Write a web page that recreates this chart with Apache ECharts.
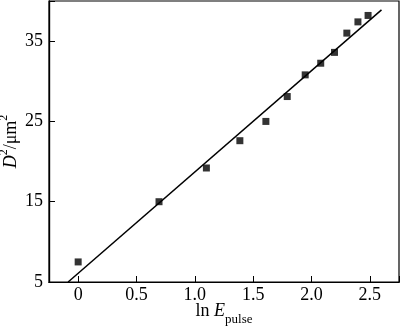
<!DOCTYPE html>
<html><head><meta charset="utf-8">
<script src="https://cdn.jsdelivr.net/npm/echarts@6/dist/echarts.min.js"></script>
<style>html,body{margin:0;padding:0;background:#fff}#c{width:400px;height:327px}</style>
</head><body><div id="c"></div>
<script>
const lnE = [0, 0.693, 1.099, 1.386, 1.609, 1.792, 1.946, 2.079, 2.197, 2.303, 2.398, 2.485];
const D2 = [7.5, 15.0, 19.2, 22.6, 25.0, 28.1, 30.8, 32.25, 33.6, 36.0, 37.4, 38.2];
const fitX = [-0.086, 2.6];
const fitY = [5, 38.9];
const xTicks = [0, 0.5, 1.0, 1.5, 2.0, 2.5];
const yTicks = [5, 15, 25, 35];

const FONT = 'Liberation Serif';
const tickAxisX = {
  type: 'value', min: -0.25, max: 2.75, splitNumber: 6, position: 'top', offset: -281,
  axisLine: {show: true, onZero: false, lineStyle: {color: '#000', width: 1.2}},
  axisLabel: {show: false}, splitLine: {show: false},
  axisTick: {show: true, inside: false, length: 6, lineStyle: {color: '#000', width: 1}}
};
const tickAxisY = {
  type: 'value', min: 5, max: 40, interval: 10, position: 'right', offset: -350,
  axisLine: {show: true, onZero: false, lineStyle: {color: '#000', width: 1.2}},
  axisLabel: {show: false}, splitLine: {show: false},
  axisTick: {show: true, inside: false, length: 6, lineStyle: {color: '#000', width: 1}}
};
const chart = echarts.init(document.getElementById('c'), null, {renderer: 'canvas'});
chart.setOption({
  animation: false,
  backgroundColor: '#fff',
  grid: {left: 49, right: 1, top: 1, bottom: 45, containLabel: false, outerBoundsMode: 'none',
    show: true, borderColor: '#000', borderWidth: 1.2, backgroundColor: 'transparent'},
  xAxis: [{
    type: 'value', min: -0.25, max: 2.75, splitNumber: 6, position: 'bottom',
    axisLine: {show: true, onZero: false, lineStyle: {color: '#000', width: 1.2}},
    axisTick: {show: false},
    axisLabel: {customValues: xTicks, color: '#000', fontFamily: FONT, fontSize: 18, margin: 4,
      formatter: v => v === 0 ? '0' : v.toFixed(1)},
    splitLine: {show: false},
    name: '{n|ln }{i|E}{s|pulse}',
    nameLocation: 'middle', nameGap: 20, nameMoveOverlap: false,
    nameTextStyle: {
      rich: {
        n: {fontFamily: FONT, fontSize: 18, color: '#000', lineHeight: 22, verticalAlign: 'top'},
        i: {fontFamily: FONT, fontSize: 18, color: '#000', fontStyle: 'italic', lineHeight: 22, verticalAlign: 'top'},
        s: {fontFamily: FONT, fontSize: 13, color: '#000', lineHeight: 13, padding: [11, 0, 0, 0], verticalAlign: 'top'}
      }
    }
  }, tickAxisX],
  yAxis: [{
    type: 'value', min: 5, max: 40, interval: 10, position: 'left',
    axisLine: {show: true, onZero: false, lineStyle: {color: '#000', width: 1.2}},
    axisTick: {show: false},
    axisLabel: {customValues: yTicks, color: '#000', fontFamily: FONT, fontSize: 18, margin: 6},
    splitLine: {show: false},
    name: '{i|D}{p|2}{n|/μm}{p|2}',
    nameLocation: 'middle', nameGap: 29, nameRotate: 90, nameMoveOverlap: false,
    nameTextStyle: {
      rich: {
        i: {fontFamily: FONT, fontSize: 18, color: '#000', fontStyle: 'italic', lineHeight: 22, verticalAlign: 'bottom'},
        n: {fontFamily: FONT, fontSize: 18, color: '#000', lineHeight: 22, verticalAlign: 'bottom'},
        p: {fontFamily: FONT, fontSize: 12, color: '#000', lineHeight: 12, padding: [0, 0, 10, 0], verticalAlign: 'top'}
      }
    }
  }, tickAxisY],
  series: [
    {type: 'line', xAxisIndex: 0, yAxisIndex: 0, data: fitX.map((x, i) => [x, fitY[i]]), showSymbol: false, symbol: 'none',
      lineStyle: {color: '#000', width: 1.5}, silent: true},
    {type: 'scatter', xAxisIndex: 0, yAxisIndex: 0, data: lnE.map((x, i) => [x, D2[i]]), symbol: 'rect', symbolSize: 7,
      itemStyle: {color: '#000'}}
  ]
});
</script></body></html>
